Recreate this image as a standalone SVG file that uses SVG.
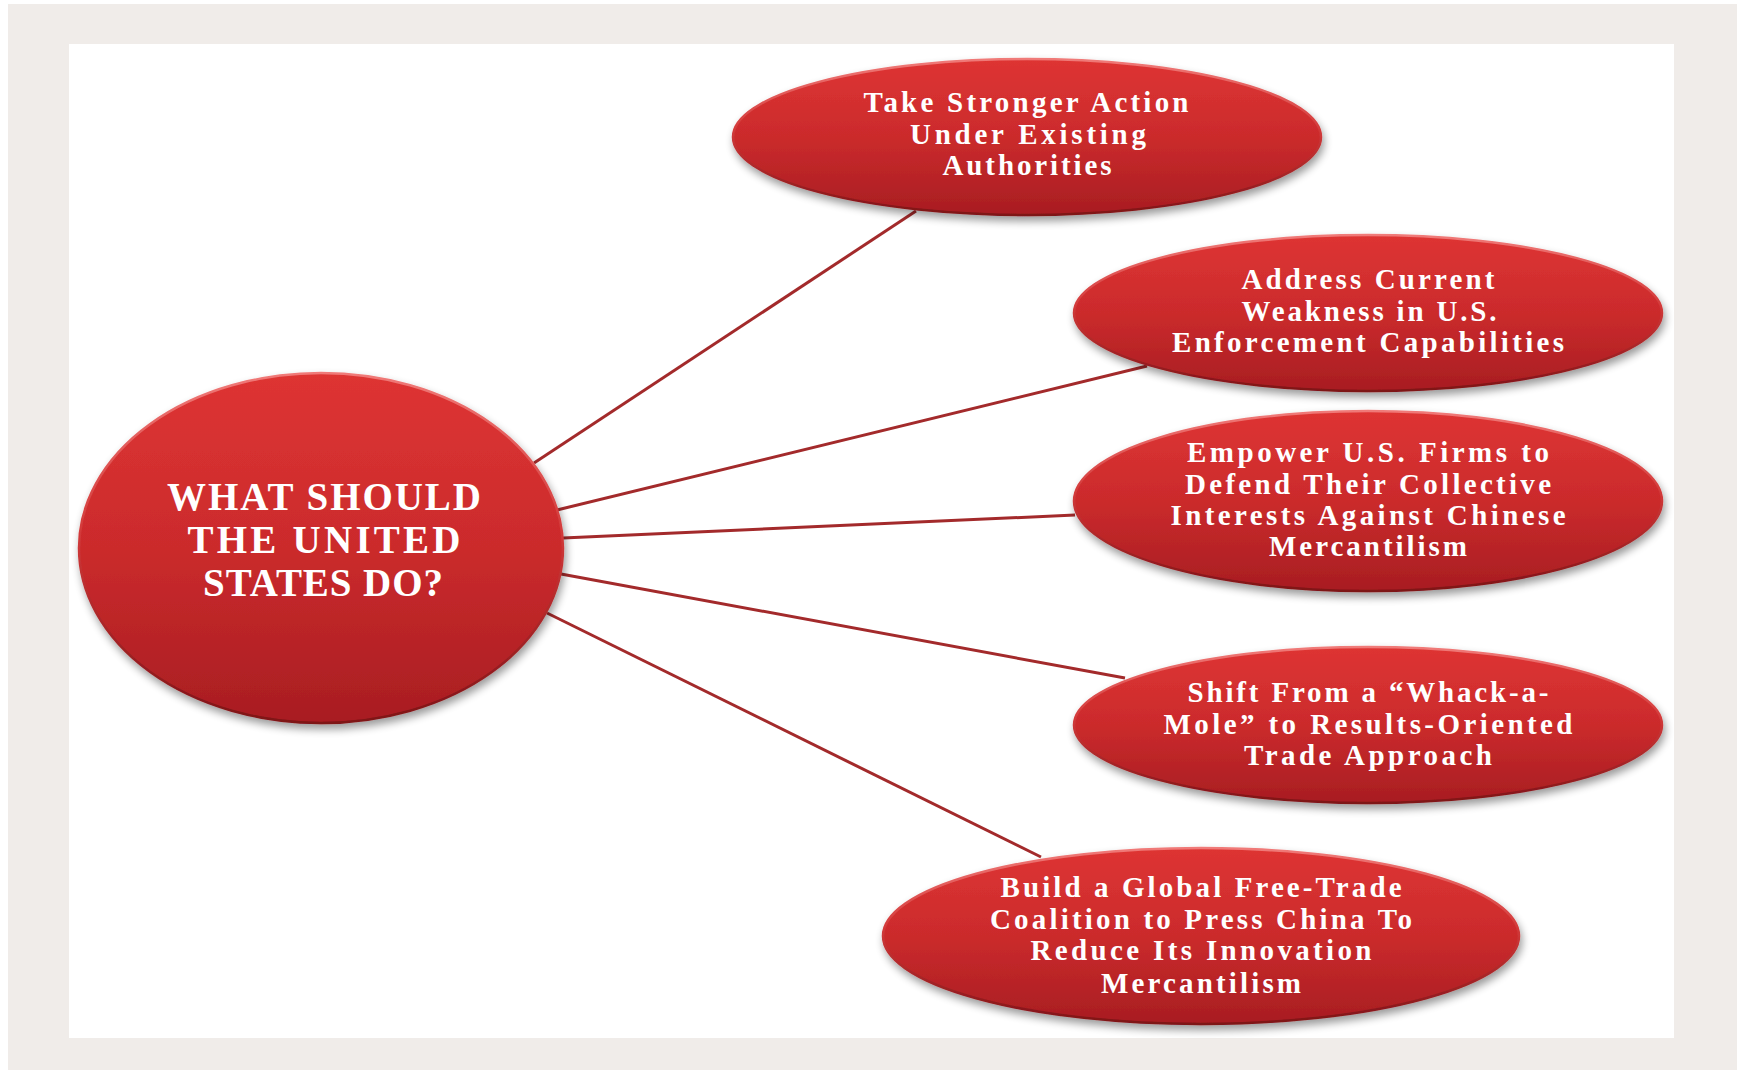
<svg xmlns="http://www.w3.org/2000/svg" width="1741" height="1070" viewBox="0 0 1741 1070">
<defs>
<linearGradient id="fillG" x1="0" y1="0" x2="0" y2="1">
<stop offset="0" stop-color="#de3433"/>
<stop offset="0.5" stop-color="#cb2b2c"/>
<stop offset="1" stop-color="#a81d22"/>
</linearGradient>
<linearGradient id="rimG" x1="0" y1="0" x2="0" y2="1">
<stop offset="0" stop-color="#f07a78"/>
<stop offset="0.45" stop-color="#d33a3a"/>
<stop offset="1" stop-color="#7e1216"/>
</linearGradient>
<filter id="shadow" x="-10%" y="-10%" width="120%" height="130%">
<feGaussianBlur in="SourceAlpha" stdDeviation="4"/>
<feOffset dx="2" dy="5" result="b"/>
<feComponentTransfer><feFuncA type="linear" slope="0.4"/></feComponentTransfer>
<feMerge><feMergeNode/><feMergeNode in="SourceGraphic"/></feMerge>
</filter>
</defs>
<style>
.node{fill:url(#fillG);stroke:url(#rimG);stroke-width:2.5;filter:url(#shadow)}
.lbl{font-family:"Liberation Serif","Times New Roman",serif;font-weight:bold;fill:#ffffff;text-anchor:middle;font-size:29px}
.big{font-size:39px}
.conn{stroke:#a32a2b;stroke-width:3;fill:none}
</style>
<rect x="8" y="4" width="1729" height="1066" fill="#f0ece9"/>
<rect x="69" y="44" width="1605" height="994" fill="#ffffff"/>
<g id="connectors">
<line class="conn" x1="534" y1="463" x2="916" y2="211"/>
<line class="conn" x1="557" y1="510" x2="1147" y2="366"/>
<line class="conn" x1="563" y1="538" x2="1075" y2="515"/>
<line class="conn" x1="561" y1="574" x2="1125" y2="678"/>
<line class="conn" x1="547" y1="613" x2="1041" y2="857"/>
</g>
<g id="center">
<ellipse class="node" cx="321" cy="548" rx="242" ry="175"/>
<text class="lbl big" x="324" y="510" textLength="314" lengthAdjust="spacing">WHAT SHOULD</text>
<text class="lbl big" x="324" y="553" textLength="273" lengthAdjust="spacing">THE UNITED</text>
<text class="lbl big" x="323" y="596" textLength="240" lengthAdjust="spacing">STATES DO?</text>
</g>
<g id="node1">
<ellipse class="node" cx="1027" cy="137" rx="294" ry="78"/>
<text class="lbl" x="1026" y="112" textLength="325" lengthAdjust="spacing">Take Stronger Action</text>
<text class="lbl" x="1028" y="144" textLength="236" lengthAdjust="spacing">Under Existing</text>
<text class="lbl" x="1027" y="175" textLength="169" lengthAdjust="spacing">Authorities</text>
</g>
<g id="node2">
<ellipse class="node" cx="1368" cy="313" rx="294" ry="78"/>
<text class="lbl" x="1368" y="289" textLength="253" lengthAdjust="spacing">Address Current</text>
<text class="lbl" x="1369" y="321" textLength="255" lengthAdjust="spacing">Weakness in U.S.</text>
<text class="lbl" x="1368" y="352" textLength="392" lengthAdjust="spacing">Enforcement Capabilities</text>
</g>
<g id="node3">
<ellipse class="node" cx="1368" cy="501" rx="294" ry="90"/>
<text class="lbl" x="1368" y="462" textLength="362" lengthAdjust="spacing">Empower U.S.  Firms to</text>
<text class="lbl" x="1368" y="494" textLength="366" lengthAdjust="spacing">Defend Their Collective</text>
<text class="lbl" x="1368" y="525" textLength="395" lengthAdjust="spacing">Interests Against Chinese</text>
<text class="lbl" x="1368" y="556" textLength="198" lengthAdjust="spacing">Mercantilism</text>
</g>
<g id="node4">
<ellipse class="node" cx="1368" cy="725" rx="294" ry="78"/>
<text class="lbl" x="1368" y="702" textLength="361" lengthAdjust="spacing">Shift From a “Whack-a-</text>
<text class="lbl" x="1368" y="734" textLength="409" lengthAdjust="spacing">Mole” to Results-Oriented</text>
<text class="lbl" x="1368" y="765" textLength="248" lengthAdjust="spacing">Trade Approach</text>
</g>
<g id="node5">
<ellipse class="node" cx="1201" cy="936" rx="318" ry="88"/>
<text class="lbl" x="1201" y="897" textLength="401" lengthAdjust="spacing">Build a Global Free-Trade</text>
<text class="lbl" x="1201" y="929" textLength="422" lengthAdjust="spacing">Coalition to Press China To</text>
<text class="lbl" x="1201" y="960" textLength="341" lengthAdjust="spacing">Reduce Its Innovation</text>
<text class="lbl" x="1201" y="993" textLength="200" lengthAdjust="spacing">Mercantilism</text>
</g>
</svg>
